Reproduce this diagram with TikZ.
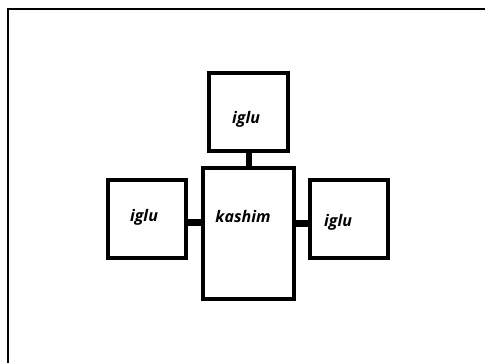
\documentclass[tikz,border=0pt]{standalone}
\usepackage{fontspec}
\setmainfont{Open Sans}
\begin{document}
\begin{tikzpicture}[x=1pt,y=-1pt,
  hut/.style={draw,line width=3.2pt,inner sep=0pt},
  lbl/.style={font=\fontsize{16}{18}\selectfont\bfseries\itshape},
  link/.style={line width=7pt}]
\useasboundingbox (0,0) rectangle (485,363);
\coordinate (tl) at (8,9);
\coordinate (tr) at (485,9);
\coordinate (bl) at (8,363);
\draw[line width=2.2pt] (tr) -- (tl) -- (bl);
% boxes
\node[hut,minimum width=79pt,minimum height=78pt] (top) at (248.5,112) {};
\node[hut,minimum width=91pt,minimum height=131pt] (kas) at (248.5,233.5) {};
\node[hut,minimum width=78pt,minimum height=78pt] (lft) at (147,219) {};
\node[hut,minimum width=78pt,minimum height=78pt] (rgt) at (349,219) {};
% labels
\node[lbl] (ttop) at (246,119) {iglu};
\node[lbl] (tkas) at (243,217) {kashim};
\node[lbl] (tlft) at (144,217) {iglu};
\node[lbl] (trgt) at (338,222) {iglu};
% links
\draw[link,line width=6pt] (top.south) -- (kas.north);
\draw[link] (lft.east |- 0,223) -- (kas.west |- 0,223);
\draw[link] (kas.east |- 0,224) -- (rgt.west |- 0,224);
\end{tikzpicture}
\end{document}
